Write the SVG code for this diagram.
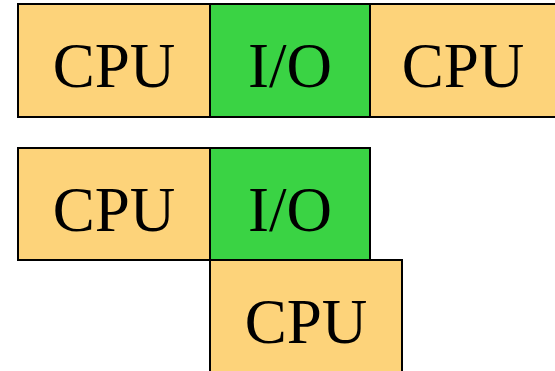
<svg xmlns="http://www.w3.org/2000/svg" width="555" height="371" viewBox="0 0 555 371">
  <style>
    .box { stroke: #000; stroke-width: 2; }
    .cpu { fill: #FDD37A; }
    .io { fill: #3AD344; }
    .lbl { font-family: "Liberation Serif", "Times New Roman", serif; font-size: 63px; fill: #000; text-anchor: middle; }
  </style>
  <rect width="555" height="371" fill="#fff"/>
  <!-- sequential: CPU, I/O, CPU in one row -->
  <g id="seq-cpu1">
    <rect class="box cpu" x="18" y="4" width="192" height="113"/>
    <text class="lbl" x="114" y="87">CPU</text>
  </g>
  <g id="seq-io">
    <rect class="box io" x="210" y="4" width="160" height="113"/>
    <text class="lbl" x="290" y="87">I/O</text>
  </g>
  <g id="seq-cpu2">
    <rect class="box cpu" x="370" y="4" width="186" height="113"/>
    <text class="lbl" x="463" y="87">CPU</text>
  </g>
  <!-- overlapped: second CPU burst runs alongside I/O -->
  <g id="ovl-cpu1">
    <rect class="box cpu" x="18" y="148" width="192" height="112"/>
    <text class="lbl" x="114" y="231">CPU</text>
  </g>
  <g id="ovl-io">
    <rect class="box io" x="210" y="148" width="160" height="112"/>
    <text class="lbl" x="290" y="231">I/O</text>
  </g>
  <g id="ovl-cpu2">
    <rect class="box cpu" x="210" y="260" width="192" height="114"/>
    <text class="lbl" x="306" y="343">CPU</text>
  </g>
  <g id="connectors"/>
</svg>
